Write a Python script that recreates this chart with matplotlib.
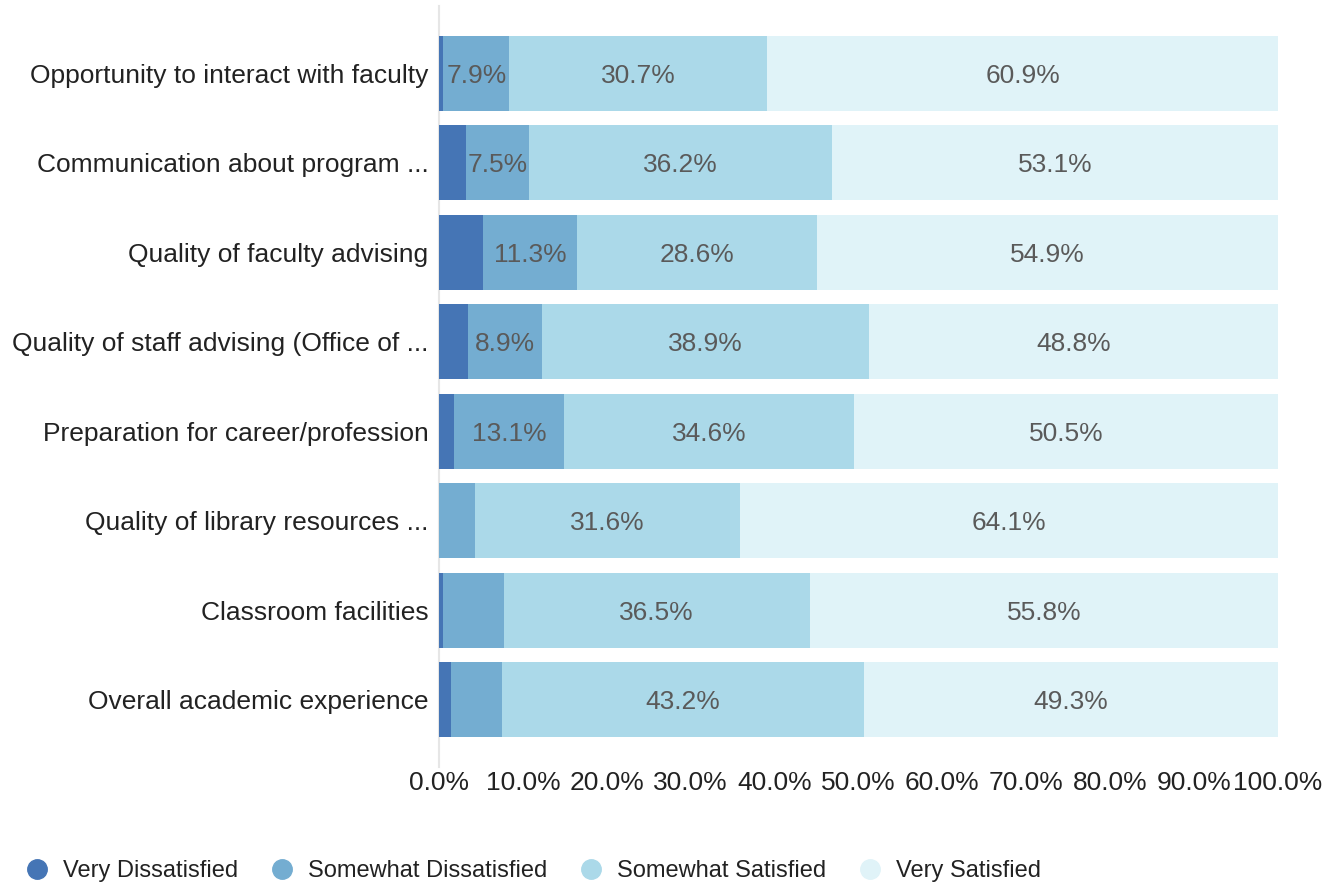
import numpy as np
import matplotlib
matplotlib.use("Agg")
from matplotlib import pyplot as plt
from matplotlib.lines import Line2D

plt.rcParams['font.family'] = ['Liberation Sans', 'DejaVu Sans']

categories = [
    "Opportunity to interact with faculty",
    "Communication about program ...",
    "Quality of faculty advising",
    "Quality of staff advising (Office of ...",
    "Preparation for career/profession",
    "Quality of library resources ...",
    "Classroom facilities",
    "Overall academic experience",
]
series_names = ["Very Dissatisfied", "Somewhat Dissatisfied",
                "Somewhat Satisfied", "Very Satisfied"]
very_dissatisfied = [0.5, 3.2, 5.2, 3.4, 1.8, 0.0, 0.5, 1.4]
somewhat_dissatisfied = [7.9, 7.5, 11.3, 8.9, 13.1, 4.3, 7.2, 6.1]
somewhat_satisfied = [30.7, 36.2, 28.6, 38.9, 34.6, 31.6, 36.5, 43.2]
very_satisfied = [60.9, 53.1, 54.9, 48.8, 50.5, 64.1, 55.8, 49.3]
x_ticks = [0, 10, 20, 30, 40, 50, 60, 70, 80, 90, 100]

colors = ["#4575b5", "#74add1", "#abd9e9", "#e0f3f8"]
series = [very_dissatisfied, somewhat_dissatisfied, somewhat_satisfied, very_satisfied]
fs = 19

fig = plt.figure(figsize=(13.34, 8.86), dpi=100)
ax = fig.add_axes([439 / 1334, 1 - 767 / 886, (1278 - 439) / 1334, 761 / 886])

y = np.arange(len(categories))
left = np.zeros(len(categories))
for vals, col in zip(series, colors):
    vals = np.array(vals)
    ax.barh(y, vals, left=left, height=0.837, color=col, linewidth=0, zorder=2)
    for yi, l, v in zip(y, left, vals):
        if v >= 7.5:
            ax.text(l + v / 2, yi, f"{v:.1f}%", ha="center", va="center_baseline",
                    fontsize=fs, color="#5a5a5a", zorder=3)
    left += vals

ax.set_ylim(len(categories) - 0.25, -0.75)
ax.set_xlim(0, 100)
ax.set_yticks(y)
ax.set_yticklabels(categories, fontsize=fs, color="#222222")
ax.set_xticks(x_ticks)
ax.set_xticklabels([f"{t:.1f}%" for t in x_ticks], fontsize=fs, color="#222222")
ax.tick_params(axis="y", length=0, pad=7.5)
ax.tick_params(axis="x", length=0, pad=3)
for s in ["top", "right", "bottom"]:
    ax.spines[s].set_visible(False)
ax.spines["left"].set_color("#e6e6e6")
ax.spines["left"].set_linewidth(1.5)
ax.spines["left"].set_zorder(1)

handles = [Line2D([], [], marker="o", linestyle="", markersize=14,
                  markerfacecolor=c, markeredgecolor=c) for c in colors]
fig.legend(handles, series_names, loc="center left", bbox_to_anchor=(25 / 1334, 1 - 871 / 886),
           ncol=4, frameon=False, fontsize=17, handlelength=1.0, handletextpad=0.6,
           columnspacing=1.36, labelcolor="#222222", borderaxespad=0, borderpad=0)

fig.savefig("out.png", dpi=100)
